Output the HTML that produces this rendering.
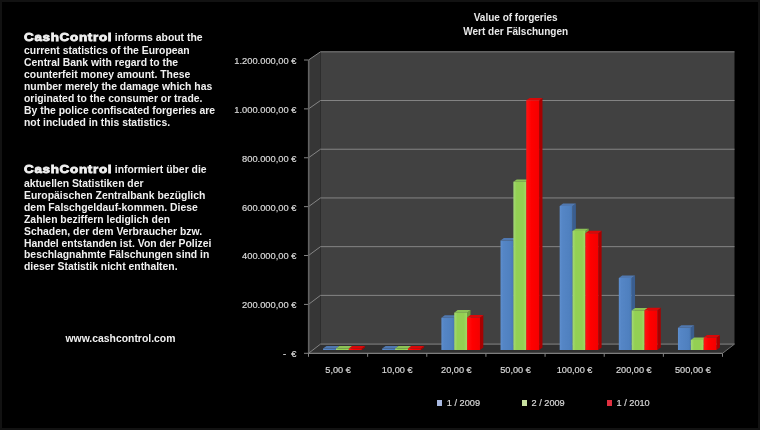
<!DOCTYPE html>
<html><head><meta charset="utf-8">
<style>
html,body{margin:0;padding:0;background:#000;}
body{width:760px;height:430px;position:relative;overflow:hidden;box-shadow:inset 0 0 0 2px #121212;font-family:"Liberation Sans",sans-serif;color:#fff;}
.p{position:absolute;left:24px;font-weight:bold;font-size:10.4px;line-height:12px;color:#f0f0f0;white-space:nowrap;}
.p div{height:auto;}
.logo{display:inline-block;font-size:11.8px;font-weight:bold;letter-spacing:0.6px;-webkit-text-stroke:0.8px #f0f0f0;transform:scaleX(1.14);transform-origin:0 0;margin-right:10.5px;}
.yl{position:absolute;right:463.6px;font-size:9.3px;color:#d8d8d8;-webkit-text-stroke:0.2px #d8d8d8;white-space:nowrap;line-height:12px;}
.cl{position:absolute;width:60px;text-align:center;top:364px;font-size:9.2px;color:#d8d8d8;-webkit-text-stroke:0.2px #d8d8d8;line-height:12px;}
.t{position:absolute;left:415.7px;width:200px;text-align:center;font-weight:bold;font-size:10px;color:#e8e8e8;line-height:14px;}
.lg{position:absolute;top:397.8px;font-size:9.2px;color:#d8d8d8;-webkit-text-stroke:0.2px #d8d8d8;line-height:10px;white-space:nowrap;}
.lg i{display:inline-block;width:5px;height:6px;margin-right:4.5px;vertical-align:0px;}
svg{position:absolute;left:0;top:0;}
#w{position:absolute;left:0;top:0;width:760px;height:430px;filter:blur(0.45px);}
</style></head><body><div id="w">
<svg width="760" height="430" viewBox="0 0 760 430">
<defs>
<linearGradient id="gb" x1="0" y1="0" x2="1" y2="0"><stop offset="0" stop-color="#5e8fcf"/><stop offset="0.2" stop-color="#5586c6"/><stop offset="0.8" stop-color="#4f80bf"/><stop offset="1" stop-color="#4877b4"/></linearGradient>
<linearGradient id="gg" x1="0" y1="0" x2="1" y2="0"><stop offset="0" stop-color="#a4d978"/><stop offset="0.25" stop-color="#93d053"/><stop offset="0.75" stop-color="#93d053"/><stop offset="1" stop-color="#a2d964"/></linearGradient>
<linearGradient id="gr" x1="0" y1="0" x2="1" y2="0"><stop offset="0" stop-color="#ff1414"/><stop offset="0.4" stop-color="#ff0000"/><stop offset="1" stop-color="#f40000"/></linearGradient>
</defs>
<polygon points="308.50,60.00 320.50,51.80 320.50,344.10 308.50,353.30" fill="#363636"/>
<polygon points="320.50,51.80 734.50,51.80 734.50,344.10 320.50,344.10" fill="#414141"/>
<polygon points="308.50,353.30 320.50,344.10 734.50,344.10 722.50,353.30" fill="#303030"/>
<polyline points="308.50,353.30 320.50,344.10 734.50,344.10" fill="none" stroke="#858585" stroke-width="1"/>
<line x1="304.00" y1="353.30" x2="308.50" y2="353.30" stroke="#858585" stroke-width="1"/>
<polyline points="308.50,304.42 320.50,295.38 734.50,295.38" fill="none" stroke="#858585" stroke-width="1"/>
<line x1="304.00" y1="304.42" x2="308.50" y2="304.42" stroke="#858585" stroke-width="1"/>
<polyline points="308.50,255.53 320.50,246.67 734.50,246.67" fill="none" stroke="#858585" stroke-width="1"/>
<line x1="304.00" y1="255.53" x2="308.50" y2="255.53" stroke="#858585" stroke-width="1"/>
<polyline points="308.50,206.65 320.50,197.95 734.50,197.95" fill="none" stroke="#858585" stroke-width="1"/>
<line x1="304.00" y1="206.65" x2="308.50" y2="206.65" stroke="#858585" stroke-width="1"/>
<polyline points="308.50,157.77 320.50,149.23 734.50,149.23" fill="none" stroke="#858585" stroke-width="1"/>
<line x1="304.00" y1="157.77" x2="308.50" y2="157.77" stroke="#858585" stroke-width="1"/>
<polyline points="308.50,108.88 320.50,100.52 734.50,100.52" fill="none" stroke="#858585" stroke-width="1"/>
<line x1="304.00" y1="108.88" x2="308.50" y2="108.88" stroke="#858585" stroke-width="1"/>
<polyline points="308.50,60.00 320.50,51.80 734.50,51.80" fill="none" stroke="#858585" stroke-width="1"/>
<line x1="304.00" y1="60.00" x2="308.50" y2="60.00" stroke="#858585" stroke-width="1"/>
<line x1="308.70" y1="60.00" x2="308.70" y2="353.30" stroke="#626262" stroke-width="1.6"/>
<line x1="308.50" y1="353.30" x2="722.50" y2="353.30" stroke="#9a9a9a" stroke-width="1"/>
<line x1="722.50" y1="353.30" x2="734.50" y2="344.10" stroke="#707070" stroke-width="1"/>
<line x1="308.50" y1="353.30" x2="308.50" y2="356.80" stroke="#858585" stroke-width="1"/>
<line x1="367.64" y1="353.30" x2="367.64" y2="356.80" stroke="#858585" stroke-width="1"/>
<line x1="426.79" y1="353.30" x2="426.79" y2="356.80" stroke="#858585" stroke-width="1"/>
<line x1="485.93" y1="353.30" x2="485.93" y2="356.80" stroke="#858585" stroke-width="1"/>
<line x1="545.07" y1="353.30" x2="545.07" y2="356.80" stroke="#858585" stroke-width="1"/>
<line x1="604.21" y1="353.30" x2="604.21" y2="356.80" stroke="#858585" stroke-width="1"/>
<line x1="663.36" y1="353.30" x2="663.36" y2="356.80" stroke="#858585" stroke-width="1"/>
<line x1="722.50" y1="353.30" x2="722.50" y2="356.80" stroke="#858585" stroke-width="1"/>
<polygon points="335.96,349.99 339.32,347.41 339.32,345.95 335.96,348.52" fill="#3a5e90"/>
<polygon points="323.11,349.99 335.96,349.99 335.96,348.52 323.11,348.52" fill="url(#gb)"/>
<polygon points="323.11,348.52 326.47,345.95 339.32,345.95 335.96,348.52" fill="#5078b0"/>
<polygon points="348.82,349.99 352.18,347.41 352.18,345.95 348.82,348.52" fill="#6f9e3c"/>
<polygon points="335.96,349.99 348.82,349.99 348.82,348.52 335.96,348.52" fill="url(#gg)"/>
<polygon points="335.96,348.52 339.32,345.95 352.18,345.95 348.82,348.52" fill="#8cc256"/>
<polygon points="361.68,349.99 365.04,347.41 365.04,345.95 361.68,348.52" fill="#a80000"/>
<polygon points="348.82,349.99 361.68,349.99 361.68,348.52 348.82,348.52" fill="url(#gr)"/>
<polygon points="348.82,348.52 352.18,345.95 365.04,345.95 361.68,348.52" fill="#d80808"/>
<polygon points="395.11,349.99 398.47,347.41 398.47,345.95 395.11,348.52" fill="#3a5e90"/>
<polygon points="382.25,349.99 395.11,349.99 395.11,348.52 382.25,348.52" fill="url(#gb)"/>
<polygon points="382.25,348.52 385.61,345.95 398.47,345.95 395.11,348.52" fill="#5078b0"/>
<polygon points="407.96,349.99 411.32,347.41 411.32,345.95 407.96,348.52" fill="#6f9e3c"/>
<polygon points="395.11,349.99 407.96,349.99 407.96,348.52 395.11,348.52" fill="url(#gg)"/>
<polygon points="395.11,348.52 398.47,345.95 411.32,345.95 407.96,348.52" fill="#8cc256"/>
<polygon points="420.82,349.99 424.18,347.41 424.18,345.95 420.82,348.52" fill="#a80000"/>
<polygon points="407.96,349.99 420.82,349.99 420.82,348.52 407.96,348.52" fill="url(#gr)"/>
<polygon points="407.96,348.52 411.32,345.95 424.18,345.95 420.82,348.52" fill="#d80808"/>
<polygon points="454.25,349.99 457.61,347.41 457.61,315.22 454.25,317.76" fill="#3a5e90"/>
<polygon points="441.39,349.99 454.25,349.99 454.25,317.76 441.39,317.76" fill="url(#gb)"/>
<polygon points="441.39,317.76 444.75,315.22 457.61,315.22 454.25,317.76" fill="#5078b0"/>
<polygon points="467.11,349.99 470.47,347.41 470.47,310.10 467.11,312.64" fill="#6f9e3c"/>
<polygon points="454.25,349.99 467.11,349.99 467.11,312.64 454.25,312.64" fill="url(#gg)"/>
<polygon points="454.25,312.64 457.61,310.10 470.47,310.10 467.11,312.64" fill="#8cc256"/>
<polygon points="479.96,349.99 483.32,347.41 483.32,314.98 479.96,317.52" fill="#a80000"/>
<polygon points="467.11,349.99 479.96,349.99 479.96,317.52 467.11,317.52" fill="url(#gr)"/>
<polygon points="467.11,317.52 470.47,314.98 483.32,314.98 479.96,317.52" fill="#d80808"/>
<polygon points="513.39,349.99 516.75,347.41 516.75,237.91 513.39,240.38" fill="#3a5e90"/>
<polygon points="500.53,349.99 513.39,349.99 513.39,240.38 500.53,240.38" fill="url(#gb)"/>
<polygon points="500.53,240.38 503.89,237.91 516.75,237.91 513.39,240.38" fill="#5078b0"/>
<polygon points="526.25,349.99 529.61,347.41 529.61,179.38 526.25,181.79" fill="#6f9e3c"/>
<polygon points="513.39,349.99 526.25,349.99 526.25,181.79 513.39,181.79" fill="url(#gg)"/>
<polygon points="513.39,181.79 516.75,179.38 529.61,179.38 526.25,181.79" fill="#8cc256"/>
<polygon points="539.11,349.99 542.47,347.41 542.47,97.92 539.11,100.26" fill="#a80000"/>
<polygon points="526.25,349.99 539.11,349.99 539.11,100.26 526.25,100.26" fill="url(#gr)"/>
<polygon points="526.25,100.26 529.61,97.92 542.47,97.92 539.11,100.26" fill="#d80808"/>
<polygon points="572.53,349.99 575.89,347.41 575.89,203.52 572.53,205.96" fill="#3a5e90"/>
<polygon points="559.68,349.99 572.53,349.99 572.53,205.96 559.68,205.96" fill="url(#gb)"/>
<polygon points="559.68,205.96 563.04,203.52 575.89,203.52 572.53,205.96" fill="#5078b0"/>
<polygon points="585.39,349.99 588.75,347.41 588.75,228.64 585.39,231.10" fill="#6f9e3c"/>
<polygon points="572.53,349.99 585.39,349.99 585.39,231.10 572.53,231.10" fill="url(#gg)"/>
<polygon points="572.53,231.10 575.89,228.64 588.75,228.64 585.39,231.10" fill="#8cc256"/>
<polygon points="598.25,349.99 601.61,347.41 601.61,230.84 598.25,233.30" fill="#a80000"/>
<polygon points="585.39,349.99 598.25,349.99 598.25,233.30 585.39,233.30" fill="url(#gr)"/>
<polygon points="585.39,233.30 588.75,230.84 601.61,230.84 598.25,233.30" fill="#d80808"/>
<polygon points="631.68,349.99 635.04,347.41 635.04,275.47 631.68,277.97" fill="#3a5e90"/>
<polygon points="618.82,349.99 631.68,349.99 631.68,277.97 618.82,277.97" fill="url(#gb)"/>
<polygon points="618.82,277.97 622.18,275.47 635.04,275.47 631.68,277.97" fill="#5078b0"/>
<polygon points="644.53,349.99 647.89,347.41 647.89,307.90 644.53,310.44" fill="#6f9e3c"/>
<polygon points="631.68,349.99 644.53,349.99 644.53,310.44 631.68,310.44" fill="url(#gg)"/>
<polygon points="631.68,310.44 635.04,307.90 647.89,307.90 644.53,310.44" fill="#8cc256"/>
<polygon points="657.39,349.99 660.75,347.41 660.75,307.66 657.39,310.20" fill="#a80000"/>
<polygon points="644.53,349.99 657.39,349.99 657.39,310.20 644.53,310.20" fill="url(#gr)"/>
<polygon points="644.53,310.20 647.89,307.66 660.75,307.66 657.39,310.20" fill="#d80808"/>
<polygon points="690.82,349.99 694.18,347.41 694.18,325.22 690.82,327.77" fill="#3a5e90"/>
<polygon points="677.96,349.99 690.82,349.99 690.82,327.77 677.96,327.77" fill="url(#gb)"/>
<polygon points="677.96,327.77 681.32,325.22 694.18,325.22 690.82,327.77" fill="#5078b0"/>
<polygon points="703.68,349.99 707.04,347.41 707.04,337.41 703.68,339.98" fill="#6f9e3c"/>
<polygon points="690.82,349.99 703.68,349.99 703.68,339.98 690.82,339.98" fill="url(#gg)"/>
<polygon points="690.82,339.98 694.18,337.41 707.04,337.41 703.68,339.98" fill="#8cc256"/>
<polygon points="716.53,349.99 719.89,347.41 719.89,334.97 716.53,337.54" fill="#a80000"/>
<polygon points="703.68,349.99 716.53,349.99 716.53,337.54 703.68,337.54" fill="url(#gr)"/>
<polygon points="703.68,337.54 707.04,334.97 719.89,334.97 716.53,337.54" fill="#d80808"/>
</svg>
<div class="t" style="top:11.4px">Value of forgeries</div>
<div class="t" style="top:25.2px">Wert der Fälschungen</div>
<div class="yl" style="top:348.1px">-&nbsp;&nbsp;€</div>
<div class="yl" style="top:299.2px">200.000,00 €</div>
<div class="yl" style="top:250.3px">400.000,00 €</div>
<div class="yl" style="top:201.5px">600.000,00 €</div>
<div class="yl" style="top:152.6px">800.000,00 €</div>
<div class="yl" style="top:103.7px">1.000.000,00 €</div>
<div class="yl" style="top:54.8px">1.200.000,00 €</div>
<div class="cl" style="left:308.1px">5,00 €</div>
<div class="cl" style="left:367.2px">10,00 €</div>
<div class="cl" style="left:426.4px">20,00 €</div>
<div class="cl" style="left:485.5px">50,00 €</div>
<div class="cl" style="left:544.6px">100,00 €</div>
<div class="cl" style="left:603.8px">200,00 €</div>
<div class="cl" style="left:662.9px">500,00 €</div>
<div class="lg" style="left:437.3px"><i style="background:#a8b8e0"></i>1 / 2009</div>
<div class="lg" style="left:522px"><i style="background:#c8e0a0"></i>2 / 2009</div>
<div class="lg" style="left:607px"><i style="background:#e03040"></i>1 / 2010</div>
<div class="p" style="top:31px">
<div style="height:13.9px"><span class="logo">CashControl</span> informs about the</div>
<div>current statistics of the European</div>
<div>Central Bank with regard to the</div>
<div>counterfeit money amount. These</div>
<div>number merely the damage which has</div>
<div>originated to the consumer or trade.</div>
<div>By the police confiscated forgeries are</div>
<div>not included in this statistics.</div>
</div>
<div class="p" style="top:164px;line-height:11.86px">
<div style="height:14.3px"><span class="logo">CashControl</span> informiert über die</div>
<div>aktuellen Statistiken der</div>
<div>Europäischen Zentralbank bezüglich</div>
<div>dem Falschgeldauf-kommen. Diese</div>
<div>Zahlen beziffern lediglich den</div>
<div>Schaden, der dem Verbraucher bzw.</div>
<div>Handel entstanden ist. Von der Polizei</div>
<div>beschlagnahmte Fälschungen sind in</div>
<div>dieser Statistik nicht enthalten.</div>
</div>
<div class="p" style="top:333px;left:65.5px">www.cashcontrol.com</div>
</div></body></html>
